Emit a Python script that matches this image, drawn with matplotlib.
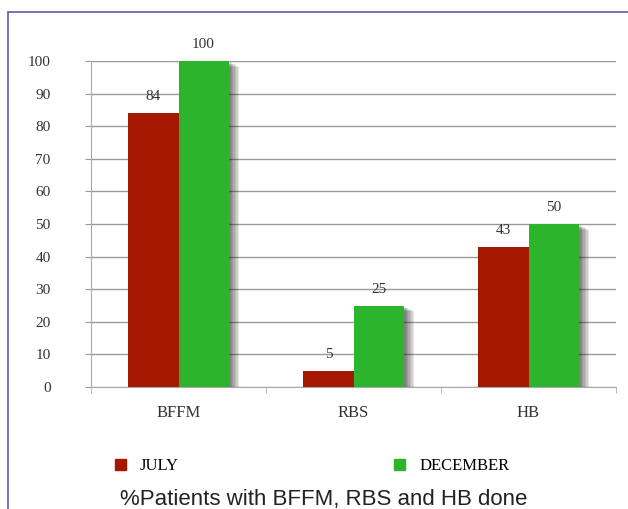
import numpy as np
import matplotlib
matplotlib.use('Agg')
import matplotlib.pyplot as plt
import matplotlib.patheffects as pe
from matplotlib.patches import Rectangle, Patch

categories = ['BFFM', 'RBS', 'HB']
july = [84, 5, 43]
december = [100, 25, 50]
series_names = ['JULY', 'DECEMBER']
yticks = list(range(0, 101, 10))

red = '#a51800'
green = '#2cb52c'
serif = 'Liberation Serif'

fig = plt.figure(figsize=(6.28, 5.09), dpi=100)
ax = fig.add_axes([91 / 628, 1 - 387 / 509, 525 / 628, 326 / 509])

x = np.arange(len(categories))
w = 0.286

# soft shadow: a few faint offset copies
shadow = [pe.SimplePatchShadow(offset=(dx, -dy), shadow_rgbFace='#222222', alpha=0.11)
          for dx, dy in [(1.5, 1), (2.5, 1.5), (3.5, 2), (4.5, 2.5), (5.5, 3), (6.5, 3.5), (7.5, 4)]]
shadow.append(pe.Normal())
b1 = ax.bar(x - w / 2, july, w, color=red, zorder=3, path_effects=shadow)
b2 = ax.bar(x + w / 2, december, w, color=green, zorder=3, path_effects=shadow)

for bars, vals in ((b1, july), (b2, december)):
    for r, v in zip(bars, vals):
        ax.text(r.get_x() + r.get_width() / 2, v + 3, str(v), ha='center', va='bottom',
                fontsize=11, family=serif, color='#333333')

ax.set_xlim(-0.5, 2.5)
ax.set_ylim(0, 100)
ax.set_yticks(yticks)
ax.set_xticks(x)
ax.set_xticklabels(categories, family=serif, fontsize=12, color='#333333')
ax.set_yticklabels([str(t) for t in yticks], family=serif, fontsize=11, color='#333333')
ax.set_xticks([-0.5, 0.5, 1.5, 2.5], minor=True)
ax.tick_params(axis='x', which='major', length=0, pad=13)
ax.tick_params(axis='x', which='minor', length=4, color='#aaaaaa', direction='out')
ax.tick_params(axis='y', length=4, color='#9a9a9a', pad=25)
ax.grid(axis='y', color='#9a9a9a', linewidth=1, zorder=0)
for s in ['top', 'right']:
    ax.spines[s].set_visible(False)
ax.spines['left'].set_color('#aaaaaa')
ax.spines['bottom'].set_color('#aaaaaa')

handles = [Patch(color=red), Patch(color=green)]
fig.legend(handles, series_names, loc='center left', bbox_to_anchor=(115 / 628, 1 - 466 / 509), ncol=2,
           frameon=False, handlelength=0.65, handleheight=0.65, handletextpad=0.85,
           columnspacing=12.9, borderpad=0, borderaxespad=0,
           prop={'family': serif, 'size': 12})

fig.text(324 / 628, 1 - 505 / 509, '%Patients with BFFM, RBS and HB done', ha='center', va='baseline',
         family='Liberation Sans', fontsize=16, color='#222222')

fig.patches.append(Rectangle((7.5 / 628, -0.1), 1.2, 1 - 12 / 509 + 0.1, transform=fig.transFigure,
                             fill=False, edgecolor='#5a5ab4', linewidth=1.2, figure=fig))

fig.savefig('out.png', dpi=100)
